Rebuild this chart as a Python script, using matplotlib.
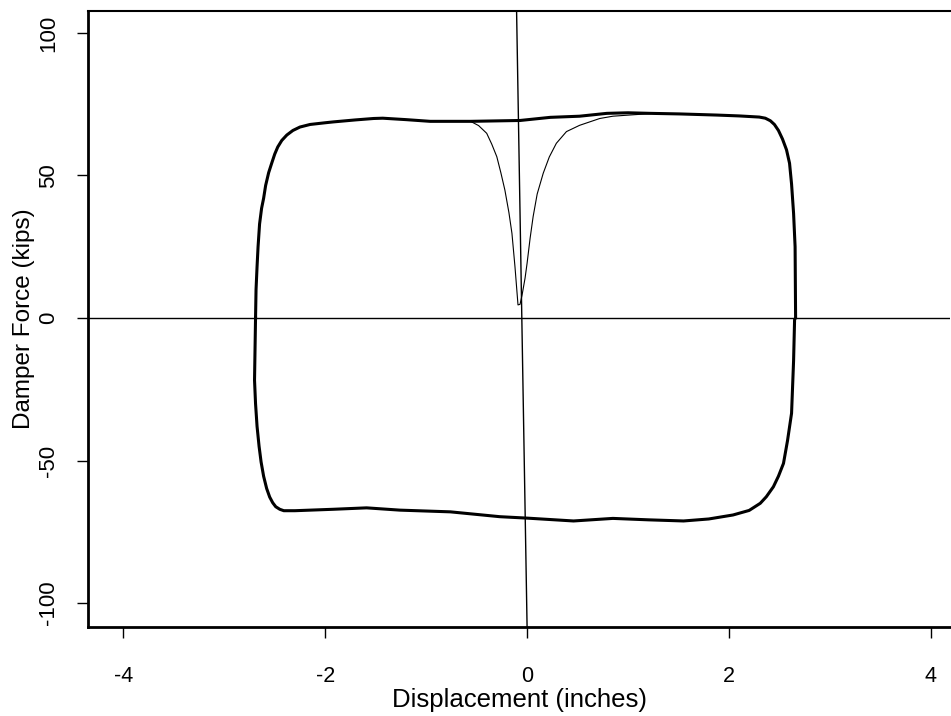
import numpy as np
import matplotlib
matplotlib.use("Agg")
import matplotlib.pyplot as plt

plt.rcParams['font.family'] = ['Liberation Sans', 'DejaVu Sans']

# steady-state loop, upper branch (left -> right) then lower branch (right -> left)
loop_x = [-2.69, -2.685, -2.675, -2.665, -2.65, -2.63, -2.61, -2.59, -2.56, -2.53,
          -2.50, -2.47, -2.43, -2.38, -2.32, -2.25, -2.15, -2.00, -1.92, -1.70,
          -1.52, -1.43, -1.20, -0.96, -0.56, -0.07, 0.23, 0.52, 0.79, 1.00,
          1.22, 1.51, 1.88, 2.10, 2.30, 2.36, 2.41, 2.45, 2.49, 2.53,
          2.57, 2.60, 2.62, 2.64, 2.655, 2.66,
          2.65, 2.64, 2.62, 2.58, 2.54, 2.49, 2.44, 2.37, 2.31, 2.20,
          2.04, 1.80, 1.55, 1.20, 0.85, 0.46, 0.00, -0.27, -0.76, -1.26,
          -1.59, -1.92, -2.30, -2.41, -2.45, -2.49, -2.52, -2.55, -2.58, -2.61,
          -2.635, -2.655, -2.675, -2.69, -2.70, -2.69]
loop_y = [0.0, 10.0, 18.0, 25.0, 33.0, 38.5, 42.0, 46.5, 51.0, 54.3,
          57.5, 60.0, 62.3, 64.2, 65.8, 67.0, 67.9, 68.5, 68.8, 69.5,
          70.0, 70.1, 69.6, 69.0, 69.0, 69.3, 70.4, 70.8, 71.8, 72.0,
          71.8, 71.6, 71.2, 70.9, 70.5, 70.1, 69.2, 67.9, 65.8, 62.8,
          59.0, 54.3, 47.0, 36.7, 25.0, 0.0,
          -0.5, -15.0, -33.4, -43.0, -51.0, -55.5, -59.2, -62.7, -65.0, -67.5,
          -69.1, -70.5, -71.2, -70.8, -70.3, -71.2, -70.2, -69.7, -68.0, -67.4,
          -66.6, -67.1, -67.6, -67.6, -67.1, -66.2, -64.8, -62.8, -59.8, -55.5,
          -50.5, -45.0, -38.0, -30.0, -21.8, 0.0]

# start-up transient (thin curve near the origin)
start_x = [-0.56, -0.48, -0.40, -0.35, -0.30, -0.26, -0.22, -0.18, -0.15, -0.12,
           -0.09, -0.07, -0.05, -0.02, 0.00, 0.03, 0.06, 0.10, 0.16, 0.22,
           0.29, 0.39, 0.52, 0.72, 0.85, 1.05, 1.22]
start_y = [69.0, 67.5, 64.8, 61.0, 56.6, 51.0, 44.9, 37.0, 29.7, 18.0,
           4.6, 4.8, 8.0, 14.0, 19.2, 28.0, 35.6, 43.5, 50.8, 56.5,
           61.3, 65.4, 67.6, 70.0, 70.8, 71.3, 71.7]

xlim = (-4.35, 4.19)
ylim = (-108.4, 107.7)
xticks = [-4, -2, 0, 2, 4]
yticks = [-100, -50, 0, 50, 100]

fig = plt.figure(figsize=(9.51, 7.16), dpi=100)
ax = fig.add_axes([0.0925, 0.1243, 0.9065, 0.8603])

# reference axes through the origin (scan is slightly skewed)
ax.plot([-0.104, 0.0], [ylim[1], ylim[0]], color='black', lw=1.0)
ax.axhline(0, color='black', lw=1.0)

ax.plot(start_x, start_y, color='black', lw=0.8)
ax.plot(loop_x, loop_y, color='black', lw=2.2, solid_joinstyle='round')

ax.set_xlim(*xlim)
ax.set_ylim(*ylim)
ax.set_xticks(xticks)
ax.set_yticks(yticks)
ax.set_xticklabels([str(t) for t in xticks])
ax.set_yticklabels([str(t) for t in yticks], rotation=90, va='center')

ax.spines['right'].set_visible(False)
for s in ['left', 'bottom']:
    ax.spines[s].set_linewidth(2.0)
ax.spines['top'].set_linewidth(1.5)

ax.tick_params(axis='x', length=8, width=1.0, pad=20, labelsize=15.5)
ax.tick_params(axis='y', length=8, width=1.0, pad=13, labelsize=16)

ax.set_xlabel('Displacement (inches)', fontsize=18.5, labelpad=1)
ax.set_ylabel('Damper Force (kips)', fontsize=17.5, labelpad=2)

fig.savefig('out.png', dpi=100)
